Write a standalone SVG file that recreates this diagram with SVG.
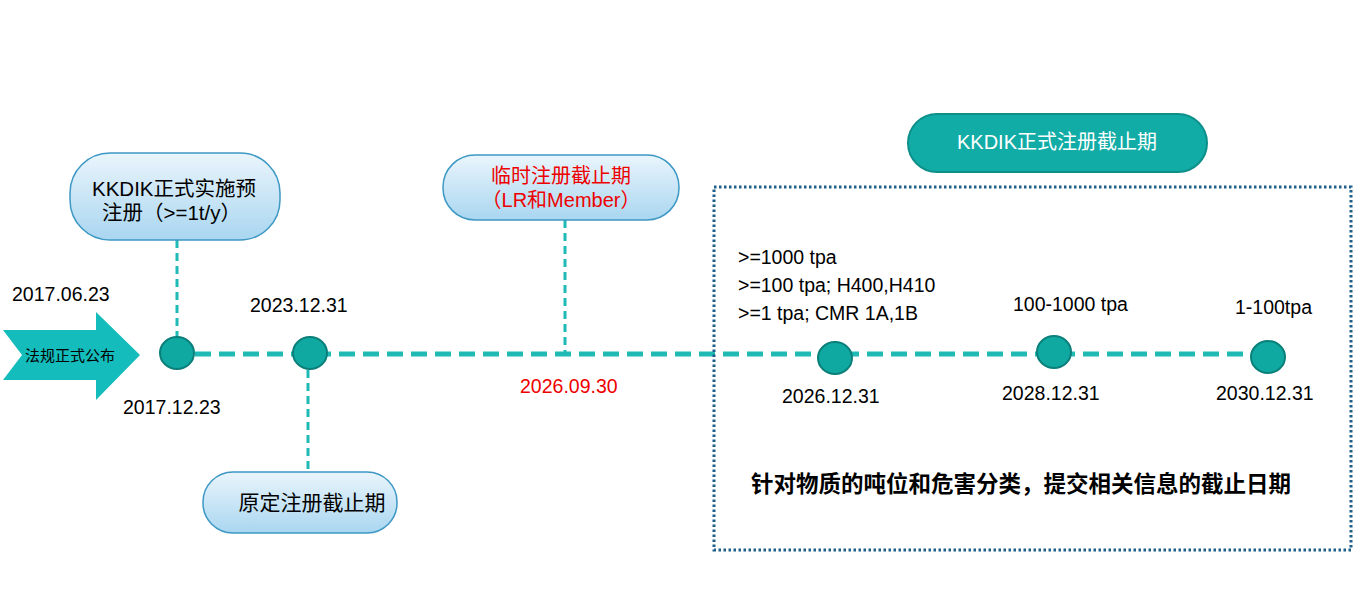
<svg xmlns="http://www.w3.org/2000/svg" width="1363" height="613" viewBox="0 0 1363 613">
<defs>
<linearGradient id="lb" x1="0" y1="0" x2="0" y2="1"><stop offset="0" stop-color="#eaf5fc"/><stop offset="1" stop-color="#a9d6f0"/></linearGradient>
<style>
text{font-family:"Liberation Sans","Noto Sans CJK SC",sans-serif;fill:#000}
.lbl{font-size:19.5px}
.box{fill:url(#lb);stroke:#3d98c4;stroke-width:1.5}
.dot{fill:#0fa9a2;stroke:#0b7f7a;stroke-width:2}
.conn{stroke:#1fbab5;stroke-width:3;stroke-dasharray:8 5;fill:none}
.main{stroke:#1fbab5;stroke-width:5;stroke-dasharray:16 8;fill:none}
</style>
</defs>
<rect width="1363" height="613" fill="#fff"/>
<g id="connectors">
<path class="main" d="M195 354H1252"/>
<path class="conn" d="M177 240V337"/>
<path class="conn" d="M308 370V472"/>
<path class="conn" d="M565 220V353"/>
</g>
<g id="arrow"><polygon points="3,330 96,330 96,312 140,355 96,400 96,380 3,380 22,355" fill="#14bcbc"/><text x="70" y="361" font-size="15" text-anchor="middle" fill="#222">法规正式公布</text></g>
<g id="n1"><rect class="box" x="70" y="153" width="210" height="87" rx="40"/><text x="92" y="196" font-size="20.5">KKDIK正式实施预</text><text x="102" y="220" font-size="20.5">注册（&gt;=1t/y）</text></g>
<g id="n2"><rect class="box" x="203" y="472" width="194" height="61" rx="30"/><text x="312" y="510" font-size="21" text-anchor="middle">原定注册截止期</text></g>
<g id="n3"><rect class="box" x="443" y="155" width="236" height="65" rx="32"/><text x="561" y="183" font-size="20" text-anchor="middle" style="fill:#e00">临时注册截止期</text><text x="561" y="207" font-size="20" text-anchor="middle" style="fill:#e00">（LR和Member）</text></g>
<g id="n4"><rect x="908" y="114" width="299" height="58" rx="29" fill="#12aca7" stroke="#0d8f8a" stroke-width="2"/><text x="1057" y="149" font-size="20" text-anchor="middle" style="fill:#fff">KKDIK正式注册截止期</text></g>
<g id="group"><rect x="714" y="187" width="637" height="363" fill="none" stroke="#1f5f8a" stroke-width="3" stroke-dasharray="2.5 2.5"/>
<text x="1021" y="492" font-size="22.5" text-anchor="middle" font-weight="bold">针对物质的吨位和危害分类，提交相关信息的截止日期</text></g>
<g id="d1"><ellipse class="dot" cx="177" cy="353" rx="17" ry="16"/></g>
<g id="d2"><ellipse class="dot" cx="310" cy="353" rx="17" ry="16"/></g>
<g id="d3"><ellipse class="dot" cx="835" cy="358" rx="17" ry="16"/></g>
<g id="d4"><ellipse class="dot" cx="1054" cy="352" rx="17" ry="16"/></g>
<g id="d5"><ellipse class="dot" cx="1268" cy="357" rx="17" ry="16"/></g>
<g id="labels">
<text class="lbl" x="12" y="301">2017.06.23</text>
<text class="lbl" x="250" y="312">2023.12.31</text>
<text class="lbl" x="123" y="414">2017.12.23</text>
<text class="lbl" x="520" y="393" style="fill:#e00">2026.09.30</text>
<text class="lbl" x="782" y="403">2026.12.31</text>
<text class="lbl" x="1002" y="400">2028.12.31</text>
<text class="lbl" x="1216" y="400">2030.12.31</text>
<text class="lbl" x="738" y="264">&gt;=1000 tpa</text>
<text class="lbl" x="738" y="292">&gt;=100 tpa; H400,H410</text>
<text class="lbl" x="738" y="320">&gt;=1 tpa; CMR 1A,1B</text>
<text class="lbl" x="1013" y="311">100-1000 tpa</text>
<text class="lbl" x="1235" y="314">1-100tpa</text>
</g>
</svg>
